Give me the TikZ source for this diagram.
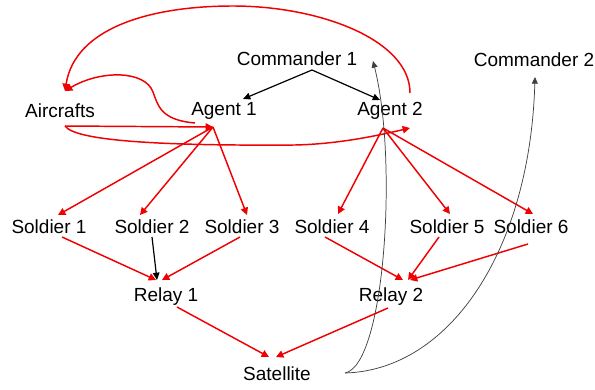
\documentclass[tikz,border=0pt]{standalone}
\usepackage{fontspec}
\setmainfont{Liberation Sans}
\usetikzlibrary{arrows.meta}
\definecolor{arrred}{RGB}{240,0,0}
\begin{document}
\begin{tikzpicture}[x=0.75pt,y=-0.75pt,
  lbl/.style={inner sep=0pt, font=\fontsize{14.25}{16}\selectfont},
  redarr/.style={draw=arrred, line width=1.1pt, -{Triangle[length=5.5pt,width=5.5pt]}, fill=none},
  blkarr/.style={draw=black, line width=0.9pt, -{Triangle[length=5.5pt,width=5pt]}},
  thinarr/.style={draw=black!75, line width=0.55pt, -{Triangle[length=5pt,width=4.5pt]}}]
\useasboundingbox (0,0) rectangle (595,389);

% labels
\node[lbl] (cmd1) at (297,59) {Commander 1};
\node[lbl] (cmd2) at (534,60) {Commander 2};
\node[lbl] (air) at (60,111) {Aircrafts};
\node[lbl] (ag1) at (224,111) {Agent 1};
\node[lbl] (ag2) at (390,111) {Agent 2};
\node[lbl] (s1) at (49,227) {Soldier 1};
\node[lbl] (s2) at (152,227) {Soldier 2};
\node[lbl] (s3) at (242,227) {Soldier 3};
\node[lbl] (s4) at (332,227) {Soldier 4};
\node[lbl] (s5) at (447,227) {Soldier 5};
\node[lbl] (s6) at (531,227) {Soldier 6};
\node[lbl] (r1) at (166,297) {Relay 1};
\node[lbl] (r2) at (391,297) {Relay 2};
\node[lbl] (sat) at (277,374) {Satellite};

% attachment points
\coordinate (c1o) at (312,70);
\coordinate (c1in) at (373,61);
\coordinate (c2in) at (535,77);
\coordinate (ag1in) at (243,99);
\coordinate (ag2in) at (380,100);
\coordinate (ag1o) at (213,127);
\coordinate (ag2o) at (383,128);
\coordinate (ag1l) at (195,123);
\coordinate (ag2t) at (410,93);
\coordinate (ag2r) at (410,128);
\coordinate (airt) at (65,91);
\coordinate (airb) at (65,126);
\coordinate (s1in) at (58,215);
\coordinate (s2in) at (140,215);
\coordinate (s3in) at (247,215);
\coordinate (s4in) at (338,214);
\coordinate (s5in) at (450,214);
\coordinate (s6in) at (533,214);
\coordinate (s1o) at (62,237);
\coordinate (s2o) at (152,237);
\coordinate (s3o) at (240,237);
\coordinate (s4o) at (325,237);
\coordinate (s5o) at (439,237);
\coordinate (s6o) at (528,244);
\coordinate (r1a) at (156,280);
\coordinate (r1b) at (162,280);
\coordinate (r1k) at (157,280);
\coordinate (r2a) at (403,280);
\coordinate (r2b) at (408,280);
\coordinate (r2c) at (410,280);
\coordinate (r1o) at (177,307);
\coordinate (r2o) at (388,308);
\coordinate (sata) at (269,357);
\coordinate (satb) at (276,357);
\coordinate (sato) at (345,373);

% black arrows
\draw[blkarr] (c1o) -- (ag1in);
\draw[blkarr] (c1o) -- (ag2in);

% red arrows from agents
\draw[redarr] (ag1o) -- (s1in);
\draw[redarr] (ag1o) -- (s2in);
\draw[redarr] (ag1o) -- (s3in);
\draw[redarr] (ag2o) -- (s4in);
\draw[redarr] (ag2o) -- (s5in);
\draw[redarr] (ag2o) -- (s6in);

% soldiers to relays
\draw[redarr] (s1o) -- (r1a);
\draw[redarr] (s3o) -- (r1b);
\draw[redarr] (s4o) -- (r2a);
\draw[redarr] (s5o) -- (r2b);
\draw[redarr] (s6o) -- (r2c);
\draw[blkarr] (s2o) -- (r1k);

% relays to satellite
\draw[redarr] (r1o) -- (sata);
\draw[redarr] (r2o) -- (satb);

% aircraft links
\draw[redarr] (airb) -- (ag1o);
\draw[redarr] (airb) .. controls (75,140) and (150,146) .. (295,145)
  .. controls (340,144) and (380,135) .. (ag2r);
\draw[redarr] (ag1l) .. controls (160,120) and (158,105) .. (153,92)
  .. controls (145,70) and (100,70) .. (airt);
\draw[redarr] (ag2t) .. controls (410,40) and (320,6) .. (233,6)
  .. controls (150,6) and (75,28) .. (airt);

% satellite to commanders
\draw[thinarr] (sato) .. controls (385,365) and (398,160) .. (c1in);
\draw[thinarr] (sato) .. controls (450,370) and (530,250) .. (c2in);
\end{tikzpicture}
\end{document}
